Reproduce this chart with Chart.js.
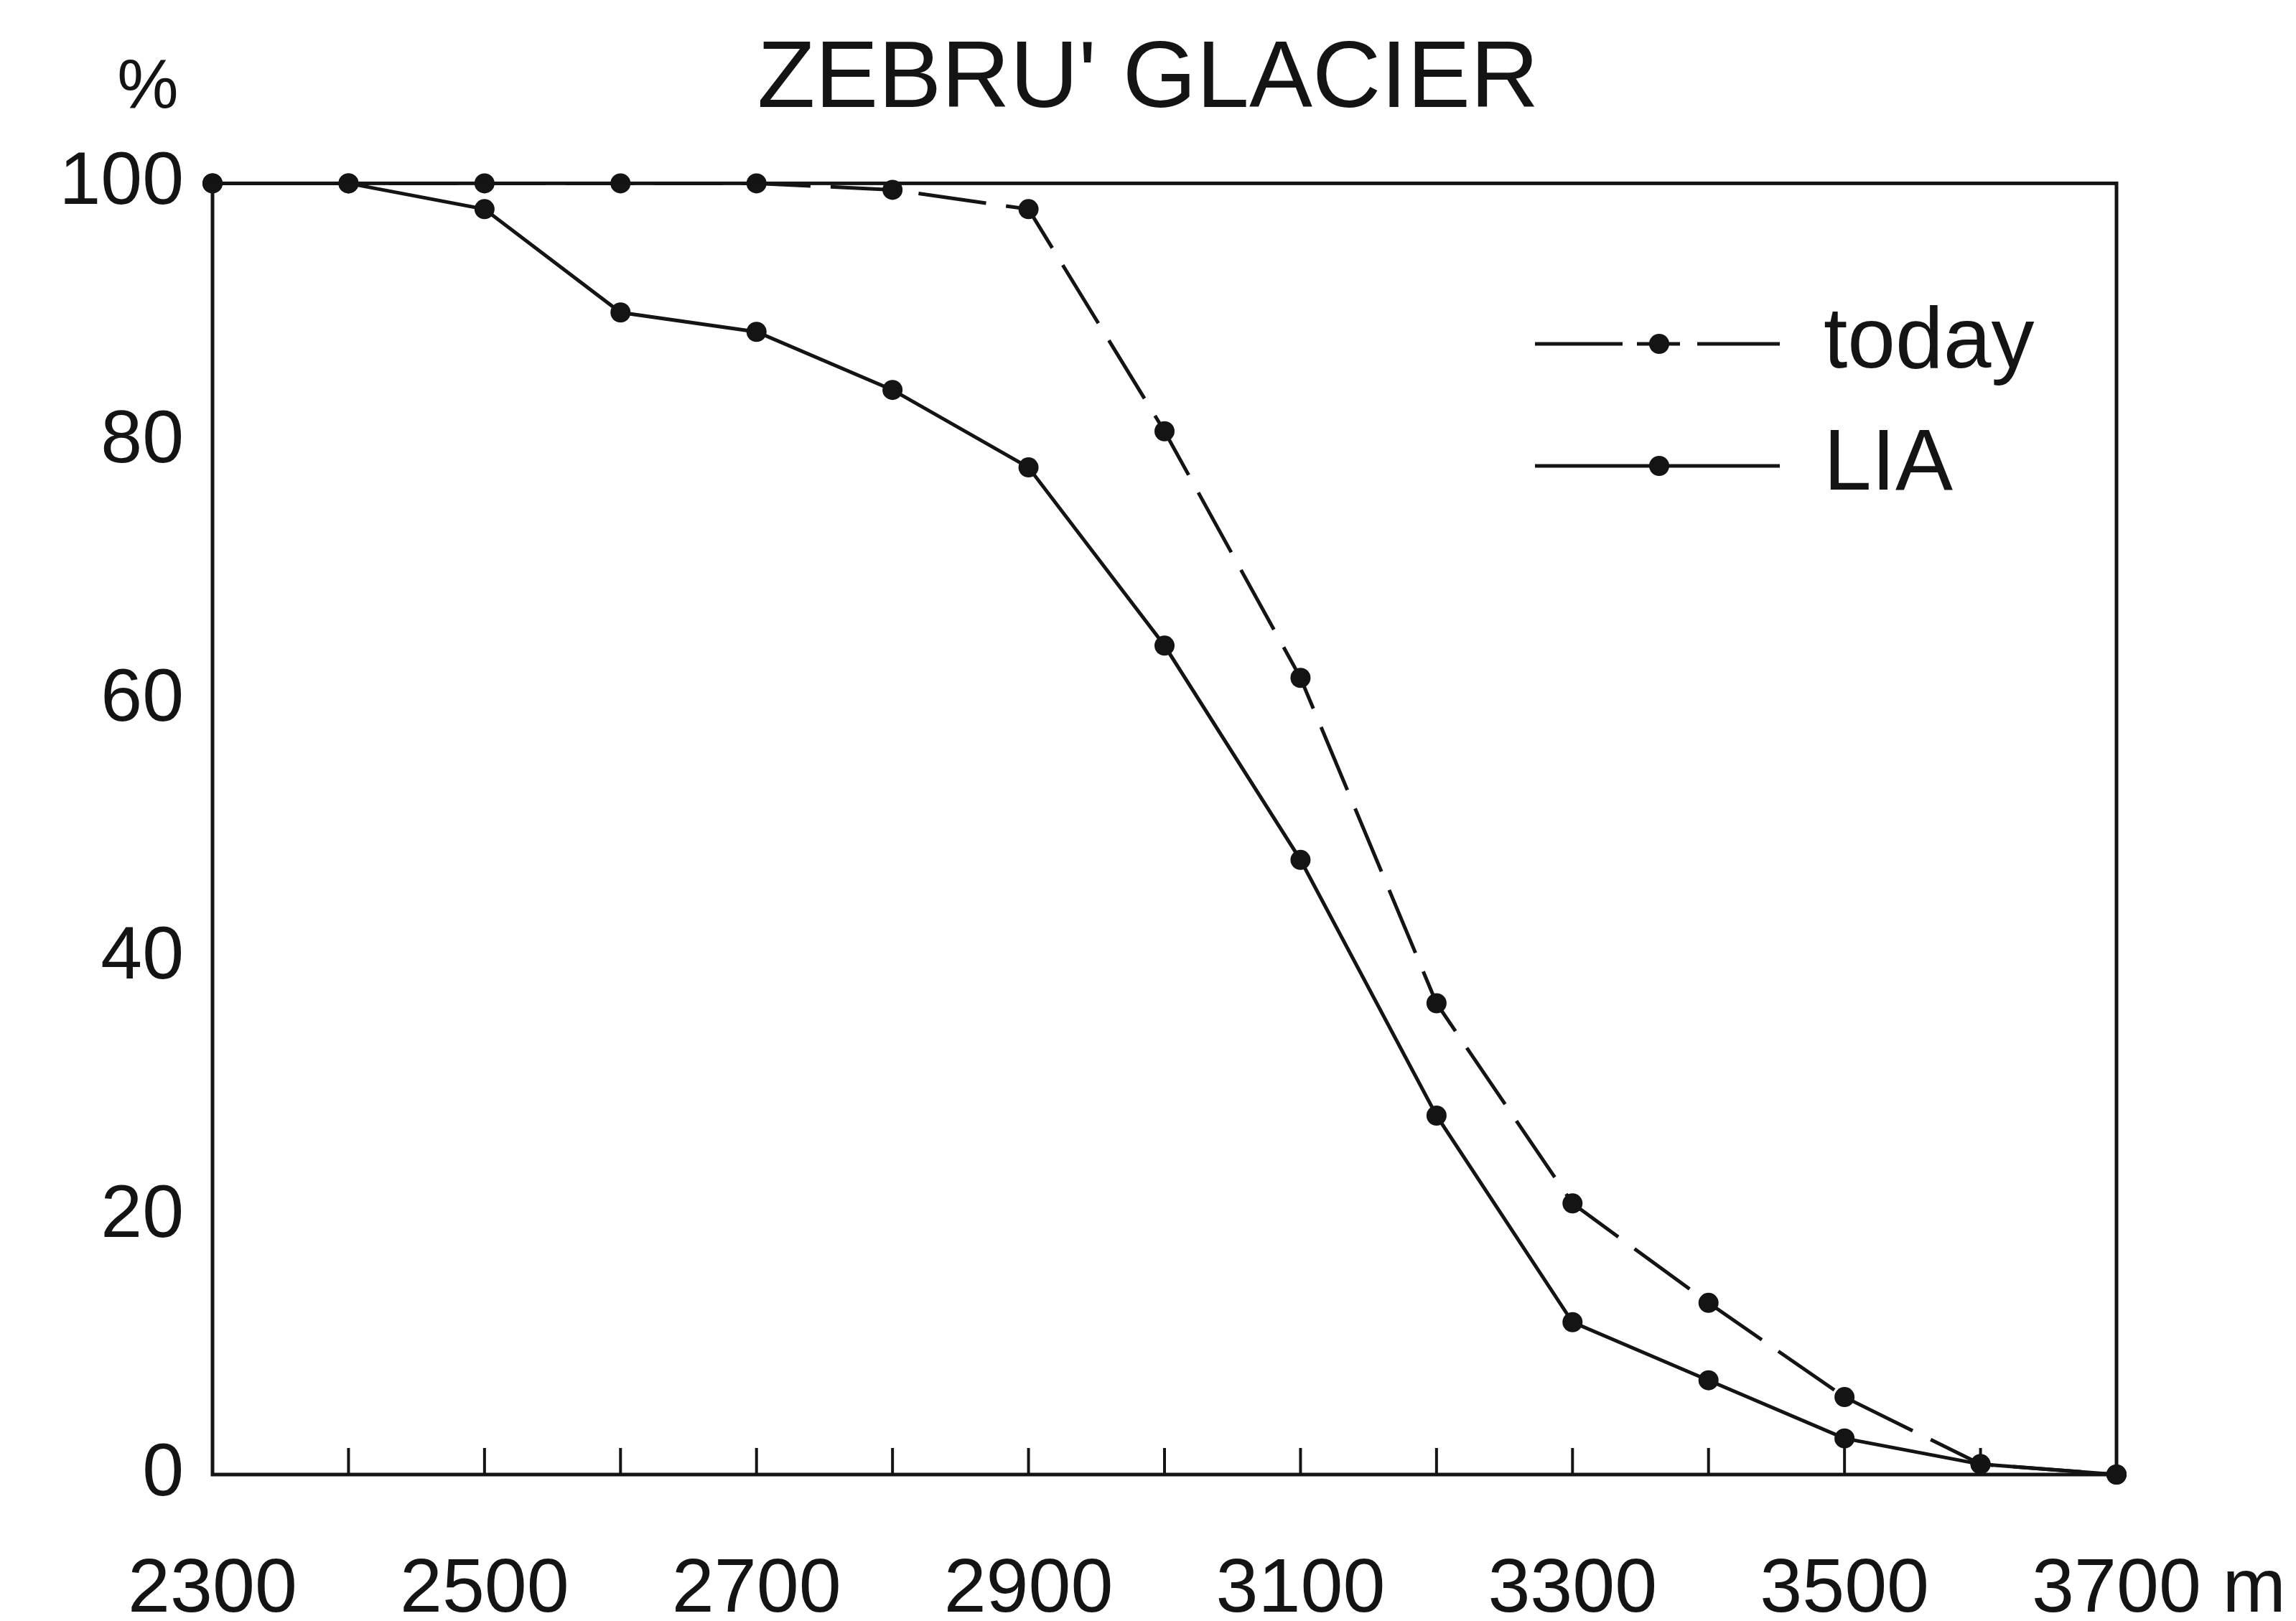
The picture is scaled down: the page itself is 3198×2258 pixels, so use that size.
<!DOCTYPE html>
<html>
<head>
<meta charset="utf-8">
<title>Zebru' Glacier</title>
<script src="https://cdn.jsdelivr.net/npm/chart.js"></script>
<style>
    html, body { margin: 0; padding: 0; background: #fff; }
    #chart { display: block; }
</style>
</head>
<body>
<canvas id="chart" width="3198" height="2258"></canvas>
<script>
// elevation (m) and % of glacier area above each elevation
const elevations = [2300, 2400, 2500, 2600, 2700, 2800, 2900, 3000, 3100, 3200, 3300, 3400, 3500, 3600, 3700];
const todayPct = [100, 100, 100, 100, 100, 99.5, 98, 80.8, 61.7, 36.5, 21, 13.3, 6, 0.8, 0];
const liaPct = [100, 100, 98, 90, 88.5, 84, 78, 64.2, 47.6, 27.8, 11.8, 7.3, 2.8, 0.8, 0];
const yTicks = [0, 20, 40, 60, 80, 100];
const seriesNames = ['today', 'LIA'];

const INK = '#141414';
const FONT = "'Liberation Sans', Arial, Helvetica, sans-serif";

function toPoints(values) {
    return elevations.map((e, i) => ({ x: e, y: values[i] }));
}

// box round the plot, inward ticks on the x axis, the % label and the legend
const framePlugin = {
    id: 'frame',
    afterDraw(chart) {
        const ctx = chart.ctx;
        const a = chart.chartArea;
        const xs = chart.scales.x;
        ctx.save();
        ctx.strokeStyle = INK;
        ctx.lineWidth = 5;
        ctx.strokeRect(a.left, a.top, a.right - a.left, a.bottom - a.top);

        ctx.lineWidth = 4;
        xs.ticks.forEach((t, i) => {
            if (i === 0 || i === xs.ticks.length - 1) return;
            const px = xs.getPixelForValue(t.value);
            ctx.beginPath();
            ctx.moveTo(px, a.bottom);
            ctx.lineTo(px, a.bottom - 37);
            ctx.stroke();
        });

        ctx.fillStyle = INK;
        ctx.font = '96px ' + FONT;
        ctx.textAlign = 'center';
        ctx.textBaseline = 'middle';
        ctx.fillText('%', 206, 124);

        // legend
        const rows = [479, 649];
        const x0 = 2138, x1 = 2479, dotX = 2311;
        chart.data.datasets.forEach((ds, i) => {
            const y = rows[i];
            ctx.lineWidth = 5;
            ctx.setLineDash(ds.borderDash ? [122, 20, 60, 24, 200] : []);
            ctx.beginPath();
            ctx.moveTo(x0, y);
            ctx.lineTo(x1, y);
            ctx.stroke();
            ctx.setLineDash([]);
            ctx.beginPath();
            ctx.arc(dotX, y, 14, 0, Math.PI * 2);
            ctx.fill();
            ctx.font = '120px ' + FONT;
            ctx.textAlign = 'left';
            ctx.fillText(ds.label, 2540, y);
        });
        ctx.restore();
    }
};

new Chart(document.getElementById('chart'), {
    type: 'line',
    data: {
        datasets: [
            {
                label: seriesNames[0],
                data: toPoints(todayPct),
                borderColor: INK,
                backgroundColor: INK,
                borderWidth: 5,
                borderDash: [95, 28],
                pointRadius: 14,
                pointBorderWidth: 0,
                clip: false
            },
            {
                label: seriesNames[1],
                data: toPoints(liaPct),
                borderColor: INK,
                backgroundColor: INK,
                borderWidth: 5,
                pointRadius: 14,
                pointBorderWidth: 0,
                clip: false
            }
        ]
    },
    options: {
        responsive: false,
        animation: false,
        devicePixelRatio: 1,
        layout: { padding: 0 },
        plugins: {
            legend: { display: false },
            tooltip: { enabled: false },
            title: {
                display: true,
                text: "ZEBRU' GLACIER",
                color: INK,
                font: { family: FONT, size: 132, weight: 'normal', lineHeight: 1.2 },
                padding: { top: 33, bottom: 64 }
            }
        },
        scales: {
            x: {
                type: 'linear',
                min: elevations[0],
                max: elevations[elevations.length - 1],
                afterFit(scale) {
                    scale.height = 204;
                    scale.paddingLeft = 0;
                    scale.paddingRight = 250;
                },
                grid: { display: false, drawTicks: false },
                border: { display: false },
                ticks: {
                    stepSize: 100,
                    autoSkip: false,
                    maxRotation: 0,
                    padding: 98,
                    color: INK,
                    font: { family: FONT, size: 106 },
                    callback(v) {
                        if ((v - 2300) % 200 !== 0) return '';
                        if (v === 3700) return '    3700 m';
                        return String(v);
                    }
                }
            },
            y: {
                type: 'linear',
                min: yTicks[0],
                max: yTicks[yTicks.length - 1],
                afterFit(scale) { scale.width = 296; },
                afterBuildTicks(scale) { scale.ticks = yTicks.map(v => ({ value: v })); },
                grid: { display: false, drawTicks: false },
                border: { display: false },
                ticks: {
                    padding: 40,
                    color: INK,
                    font: { family: FONT, size: 104 }
                }
            }
        }
    },
    plugins: [framePlugin]
});
</script>
</body>
</html>
